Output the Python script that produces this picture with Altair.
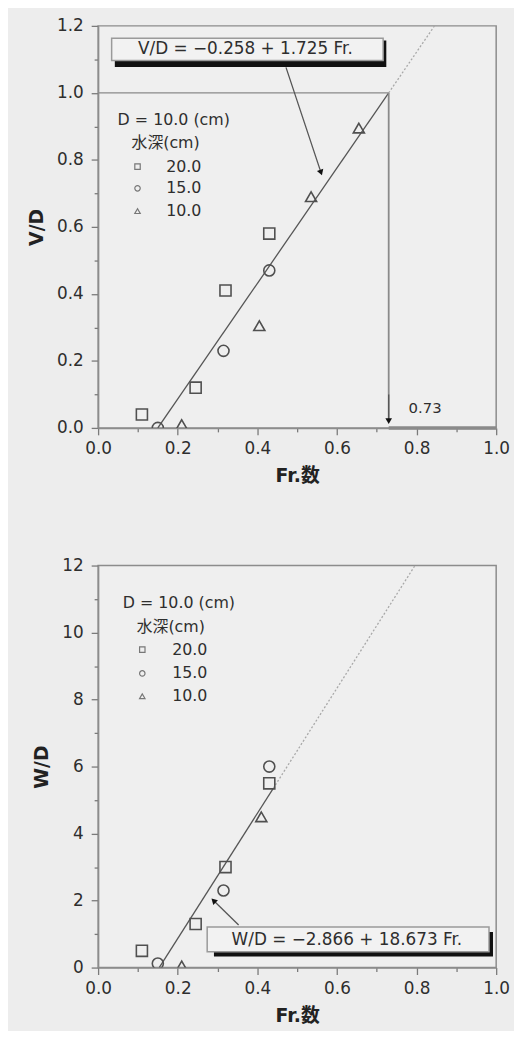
import altair as alt
import pandas as pd

FONT = "DejaVu Sans, Noto Sans CJK JP"
BG = "#ededed"
INK = "#2e2e2e"
MARK = "#505050"
FRAME = "#8c8c8c"

# ---------------- top panel (V/D) ----------------
fr_sq20_top = [0.11, 0.245, 0.32, 0.43]
vd_sq20 = [0.04, 0.12, 0.41, 0.58]
fr_ci15_top = [0.15, 0.315, 0.43]
vd_ci15 = [0.0, 0.23, 0.47]
fr_tr10_top = [0.21, 0.405, 0.535, 0.655]
vd_tr10 = [0.01, 0.305, 0.69, 0.895]

fit_top_solid_fr = [0.15, 0.73]
fit_top_solid_vd = [0.0, 1.0]
fit_top_dot_fr = [0.73, 0.845]
fit_top_dot_vd = [1.0, 1.2]

eq_top = "V/D = \u22120.258 + 1.725 Fr."
eq_top_box = [0.034, 0.716, 1.097, 1.163]      # x1, x2, y1, y2
eq_top_shadow = [0.042, 0.724, 1.077, 1.156]
eq_top_text = [0.37, 1.131]
arrow_top = [0.472, 1.076, 0.560, 0.762]       # from x, y -> to x, y

ref_fr = 0.73
ref_vd = 1.0
ref_label = "0.73"
ref_label_pos = [0.78, 0.058]

legend_head_top = ["D = 10.0 (cm)", "水深(cm)"]
legend_head_top_pos = [[0.049, 0.919], [0.084, 0.851]]
legend_labels = ["20.0", "15.0", "10.0"]
legend_rows_top = [0.780, 0.715, 0.647]
legend_sym_x_top = 0.099
legend_txt_x_top = 0.171

# ---------------- bottom panel (W/D) ----------------
fr_sq20_bot = [0.11, 0.245, 0.32, 0.43]
wd_sq20 = [0.5, 1.3, 3.0, 5.5]
fr_ci15_bot = [0.15, 0.315, 0.43]
wd_ci15 = [0.12, 2.3, 6.0]
fr_tr10_bot = [0.21, 0.41]
wd_tr10 = [0.05, 4.5]

fit_bot_solid_fr = [0.1535, 0.44]
fit_bot_solid_wd = [0.0, 5.35]
fit_bot_dot_fr = [0.44, 0.796]
fit_bot_dot_wd = [5.35, 12.0]

eq_bot = "W/D = \u22122.866 + 18.673 Fr."
eq_bot_box = [0.274, 0.982, 0.47, 1.21]
eq_bot_shadow = [0.291, 0.992, 0.33, 1.06]
eq_bot_text = [0.625, 0.83]
arrow_bot = [0.353, 1.27, 0.290, 2.0]

legend_head_bot = ["D = 10.0 (cm)", "水深(cm)"]
legend_head_bot_pos = [[0.062, 10.88], [0.097, 10.17]]
legend_rows_bot = [9.49, 8.78, 8.10]
legend_sym_x_bot = 0.111
legend_txt_x_bot = 0.186

X_TICKS = [0.0, 0.1, 0.2, 0.3, 0.4, 0.5, 0.6, 0.7, 0.8, 0.9, 1.0]
Y_TICKS_TOP = [0.0, 0.1, 0.2, 0.3, 0.4, 0.5, 0.6, 0.7, 0.8, 0.9, 1.0, 1.1, 1.2]
Y_TICKS_BOT = [0, 1, 2, 3, 4, 5, 6, 7, 8, 9, 10, 11, 12]

SHAPES = ["square", "circle", "triangle-up"]
W, H = 402, 406


def x_axis():
    return alt.Axis(
        title="Fr.数", values=X_TICKS, grid=False,
        labelExpr="round(datum.value*10) % 2 === 0 ? format(datum.value, '.1f') : ''",
        tickSize={"condition": {"test": "round(datum.value*10) % 2 === 0", "value": 7}, "value": 4},
        labelFlush=False, labelOverlap=False, labelPadding=6, titlePadding=10,
    )


def y_axis(title, ticks, decimal):
    if decimal:
        lab = "round(datum.value*10) % 2 === 0 ? format(datum.value, '.1f') : ''"
        test = "round(datum.value*10) % 2 === 0"
    else:
        lab = "datum.value % 2 === 0 ? format(datum.value, 'd') : ''"
        test = "datum.value % 2 === 0"
    return alt.Axis(
        title=title, values=ticks, grid=False, labelExpr=lab,
        tickSize={"condition": {"test": test, "value": 7}, "value": 4},
        labelFlush=False, labelOverlap=False, labelPadding=8, titlePadding=10,
    )


def panel(ytitle, ymax, yticks, decimal, pts, fit_s, fit_d, box, shadow, eqtext, eqpos,
          arrows, heads, head_pos, rows, symx, txtx, extra_layers):
    xs = alt.Scale(domain=[0, 1], nice=False, zero=False)
    ys = alt.Scale(domain=[0, ymax], nice=False, zero=False)
    X = lambda f: alt.X(f, type="quantitative", scale=xs, axis=x_axis())
    Y = lambda f: alt.Y(f, type="quantitative", scale=ys, axis=y_axis(ytitle, yticks, decimal))

    layers = []
    sh = pd.DataFrame({"x": [shadow[0]], "x2": [shadow[1]], "y": [shadow[2]], "y2": [shadow[3]]})
    layers.append(alt.Chart(sh).mark_rect(color="#111111").encode(
        x=X("x"), x2="x2", y=Y("y"), y2="y2"))
    bx = pd.DataFrame({"x": [box[0]], "x2": [box[1]], "y": [box[2]], "y2": [box[3]]})
    layers.append(alt.Chart(bx).mark_rect(fill="#f2f2f2", stroke="#9a9a9a", strokeWidth=1.5).encode(
        x=X("x"), x2="x2", y=Y("y"), y2="y2"))
    layers.append(alt.Chart(pd.DataFrame({"x": [eqpos[0]], "y": [eqpos[1]], "t": [eqtext]})).mark_text(
        font=FONT, fontSize=17, color=INK, align="center", baseline="middle").encode(
        x=X("x"), y=Y("y"), text="t:N"))

    fs = pd.DataFrame({"x": fit_s[0], "y": fit_s[1]})
    layers.append(alt.Chart(fs).mark_line(color="#555555", strokeWidth=1.3, clip=True).encode(
        x=X("x"), y=Y("y")))
    fd = pd.DataFrame({"x": fit_d[0], "y": fit_d[1]})
    layers.append(alt.Chart(fd).mark_line(color="#a8a8a8", strokeWidth=1.3, strokeDash=[2, 2], clip=True).encode(
        x=X("x"), y=Y("y")))

    layers.extend(extra_layers(X, Y))

    ar = pd.DataFrame({"x": [a[0] for a in arrows], "y": [a[1] for a in arrows],
                       "x2": [a[2] for a in arrows], "y2": [a[3] for a in arrows],
                       "ang": [a[4] for a in arrows]})
    layers.append(alt.Chart(ar).mark_rule(color="#555555", strokeWidth=1.3).encode(
        x=X("x"), y=Y("y"), x2="x2", y2="y2"))
    layers.append(alt.Chart(ar).mark_point(shape="triangle-down", filled=True, color="#111111",
                                           size=45, opacity=1).encode(
        x=X("x2"), y=Y("y2"), angle=alt.Angle("ang:Q", scale=None)))

    layers.append(alt.Chart(pts).mark_point(filled=False, strokeWidth=1.6, size=125, color=MARK,
                                            opacity=1, clip=True).encode(
        x=X("x"), y=Y("y"),
        shape=alt.Shape("s:N", scale=alt.Scale(domain=legend_labels, range=SHAPES), legend=None)))

    hd = pd.DataFrame({"x": [p[0] for p in head_pos], "y": [p[1] for p in head_pos], "t": heads})
    layers.append(alt.Chart(hd).mark_text(font=FONT, fontSize=16, color=INK, align="left",
                                          baseline="middle").encode(x=X("x"), y=Y("y"), text="t:N"))
    lg = pd.DataFrame({"sx": [symx] * 3, "tx": [txtx] * 3, "y": rows, "s": legend_labels})
    layers.append(alt.Chart(lg).mark_point(filled=False, strokeWidth=1.2, size=30, color="#777777",
                                           opacity=1).encode(
        x=X("sx"), y=Y("y"),
        shape=alt.Shape("s:N", scale=alt.Scale(domain=legend_labels, range=SHAPES), legend=None)))
    layers.append(alt.Chart(lg).mark_text(font=FONT, fontSize=16, color=INK, align="left",
                                          baseline="middle").encode(x=X("tx"), y=Y("y"), text="s:N"))

    return alt.layer(*layers).properties(width=W, height=H)


def pts_frame(frs, vals):
    rows = []
    for lab, fr, v in zip(legend_labels, frs, vals):
        for a, b in zip(fr, v):
            rows.append({"x": a, "y": b, "s": lab})
    return pd.DataFrame(rows)


def top_extra(X, Y):
    ref = pd.DataFrame({"x": [0.0, ref_fr, ref_fr], "x2": [ref_fr, ref_fr, 1.0],
                        "y": [ref_vd, ref_vd, 0.0], "y2": [ref_vd, 0.025, 0.0],
                        "w": [1.5, 1.8, 3.5]})
    out = [alt.Chart(ref).mark_rule(color="#8a8a8a").encode(
        x=X("x"), x2="x2", y=Y("y"), y2="y2", strokeWidth=alt.StrokeWidth("w:Q", scale=None))]
    lbl = pd.DataFrame({"x": [ref_label_pos[0]], "y": [ref_label_pos[1]], "t": [ref_label]})
    out.append(alt.Chart(lbl).mark_text(font=FONT, fontSize=15, color=INK, align="left",
                                        baseline="middle").encode(x=X("x"), y=Y("y"), text="t:N"))
    return out


top = panel(
    "V/D", 1.2, Y_TICKS_TOP, True,
    pts_frame([fr_sq20_top, fr_ci15_top, fr_tr10_top], [vd_sq20, vd_ci15, vd_tr10]),
    (fit_top_solid_fr, fit_top_solid_vd), (fit_top_dot_fr, fit_top_dot_vd),
    eq_top_box, eq_top_shadow, eq_top, eq_top_text,
    [arrow_top + [341], [ref_fr, 0.1, ref_fr, 0.02, 0]],
    legend_head_top, legend_head_top_pos, legend_rows_top, legend_sym_x_top, legend_txt_x_top,
    top_extra,
)

bottom = panel(
    "W/D", 12, Y_TICKS_BOT, False,
    pts_frame([fr_sq20_bot, fr_ci15_bot, fr_tr10_bot], [wd_sq20, wd_ci15, wd_tr10]),
    (fit_bot_solid_fr, fit_bot_solid_wd), (fit_bot_dot_fr, fit_bot_dot_wd),
    eq_bot_box, eq_bot_shadow, eq_bot, eq_bot_text,
    [arrow_bot + [134]],
    legend_head_bot, legend_head_bot_pos, legend_rows_bot, legend_sym_x_bot, legend_txt_x_bot,
    lambda X, Y: [],
)

chart = alt.vconcat(top, bottom, spacing=70).properties(
    background=BG,
    padding={"left": 19, "top": 3, "right": 3, "bottom": 0},
).configure_view(
    stroke=FRAME, strokeWidth=1.5, fill="#efefef",
).configure_axis(
    domainColor=FRAME, domainWidth=1.5, tickColor="#7a7a7a", tickWidth=1.3,
    labelFont=FONT, labelFontSize=17, labelColor=INK,
    titleFont=FONT, titleFontSize=19, titleColor="#222222", titleFontWeight="bold",
)

chart.save("out.html", embed_options={"renderer": "svg", "actions": False})
